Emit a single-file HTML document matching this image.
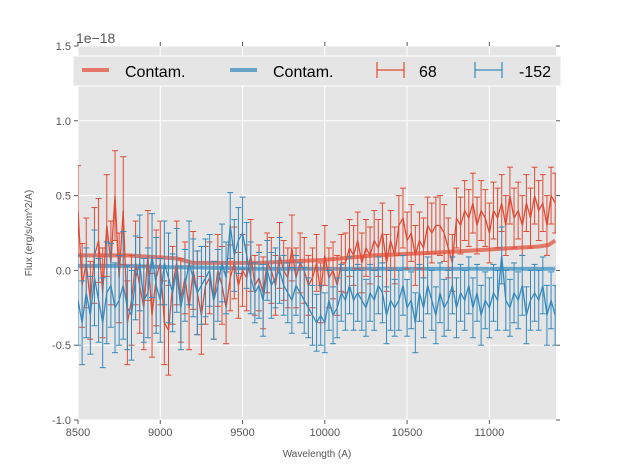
<!DOCTYPE html>
<html><head><meta charset="utf-8"><style>
html,body{margin:0;padding:0;background:#fff;}
svg{display:block;font-family:"Liberation Sans","DejaVu Sans",sans-serif;}
</style></head><body>
<svg id="chart" width="617" height="467" xmlns="http://www.w3.org/2000/svg"></svg>
<script>
const redX0 = 8500, stepX = 25;
const redVals = [0.4,-0.1,0.05,-0.2,0.1,0.2,-0.15,0.3,0.05,0.5,-0.05,
0.4,-0.35,-0.2,0.05,-0.1,-0.25,0.1,-0.3,-0.05,0.05,
-0.35,-0.4,-0.1,0.05,-0.2,-0.05,-0.25,0.0,-0.15,-0.3,
-0.1,-0.05,-0.2,0.0,-0.1,-0.25,-0.05,0.05,-0.1,0.0,
-0.05,0.1,-0.1,-0.05,-0.15,0.05,0.0,-0.1,0.1,0.0,
-0.05,0.15,-0.05,0.05,0.0,-0.1,-0.05,0.05,-0.15,0.1,
-0.05,0.0,-0.1,0.05,0.05,0.15,0.1,0.2,0.05,0.15,
0.1,0.2,0.15,0.25,0.05,0.2,0.1,0.3,0.35,0.2,
0.25,0.1,0.2,0.15,0.3,0.25,0.3,0.3,0.25,0.15,
0.05,0.35,0.3,0.4,0.35,0.45,0.3,0.4,0.35,0.25,
0.4,0.35,0.45,0.3,0.5,0.35,0.4,0.3,0.45,0.35,
0.5,0.4,0.45,0.3,0.5,0.45];
const blueVals = [-0.2,-0.35,-0.15,-0.3,-0.05,-0.2,-0.35,-0.15,-0.1,-0.25,-0.2,
-0.1,-0.25,-0.3,-0.05,0.05,-0.2,-0.15,0.1,-0.1,-0.2,
0.05,-0.05,-0.15,0.0,-0.25,-0.1,0.05,-0.05,-0.15,-0.1,
-0.05,0.0,-0.2,-0.1,0.05,-0.05,0.3,0.1,0.2,0.25,
0.1,-0.05,-0.15,-0.1,-0.2,0.0,-0.1,-0.05,0.0,-0.1,
-0.15,-0.2,-0.1,-0.15,-0.2,-0.25,-0.3,-0.35,-0.3,-0.35,
-0.2,-0.3,-0.25,-0.15,-0.2,-0.1,-0.2,-0.15,-0.2,-0.25,
-0.15,-0.2,-0.1,-0.15,-0.3,-0.2,-0.25,-0.2,-0.1,-0.25,
-0.2,-0.35,-0.15,-0.25,-0.1,-0.2,-0.3,-0.15,-0.25,-0.2,
-0.1,-0.25,-0.15,-0.2,-0.1,-0.25,-0.15,-0.3,-0.2,-0.25,
-0.15,-0.2,0.1,-0.2,-0.25,-0.15,-0.2,-0.1,-0.3,-0.2,
-0.15,-0.2,-0.1,-0.3,-0.2,-0.3];
const errVals = [0.3,0.28,0.3,0.26,0.32,0.28,0.3,0.34,0.28,0.3,0.3,
0.36,0.28,0.3,0.28,0.32,0.28,0.3,0.28,0.32,0.28,
0.28,0.3,0.26,0.28,0.28,0.24,0.28,0.26,0.28,0.26,
0.26,0.24,0.26,0.24,0.26,0.24,0.22,0.24,0.22,0.24,
0.22,0.24,0.2,0.22,0.24,0.2,0.22,0.2,0.22,0.2,
0.2,0.22,0.2,0.2,0.22,0.2,0.2,0.19,0.2,0.2,
0.2,0.19,0.2,0.19,0.2,0.19,0.2,0.19,0.2,0.19,
0.19,0.2,0.19,0.2,0.19,0.2,0.19,0.2,0.2,0.19,
0.19,0.2,0.19,0.2,0.19,0.2,0.19,0.2,0.19,0.2,
0.19,0.2,0.19,0.2,0.19,0.2,0.19,0.2,0.19,0.2,
0.19,0.2,0.19,0.2,0.19,0.2,0.19,0.2,0.19,0.2,
0.19,0.2,0.19,0.2,0.19,0.2];
const contamX = [8500,8800,9100,9200,9600,9800,10000,10300,10700,11000,11300,11360,11400];
const contamRed = [0.1,0.1,0.08,0.05,0.05,0.06,0.07,0.1,0.12,0.14,0.16,0.17,0.2];
const contamBlue = [0.03,0.03,0.02,0.02,0.01,0.01,0.01,0.01,0.01,0.01,0.01,0.01,0.01];
const xTicks = [8500,9000,9500,10000,10500,11000];
const yTicks = [-1.0,-0.5,0.0,0.5,1.0,1.5];

const NS="http://www.w3.org/2000/svg";
const svg=document.getElementById('chart');
const L=78,R=556,T=46,B=420,xmin=8500,xmax=11405,ymin=-1,ymax=1.5;
const sx=v=>L+(v-xmin)/(xmax-xmin)*(R-L);
const sy=v=>B-(v-ymin)/(ymax-ymin)*(B-T);
function mk(tag,attrs,parent){const e=document.createElementNS(NS,tag);for(const k in attrs)e.setAttribute(k,attrs[k]);(parent||svg).appendChild(e);return e;}

const bg=mk('rect',{x:L,y:T,width:R-L,height:B-T,fill:'#e5e5e5'});


const grid=mk('g',{stroke:'#fff','stroke-width':1});


xTicks.forEach(t=>{mk('line',{x1:sx(t),x2:sx(t),y1:T,y2:B},grid);});
yTicks.forEach(t=>{mk('line',{x1:L,x2:R,y1:sy(t),y2:sy(t)},grid);});

const clip=mk('clipPath',{id:'pc'});mk('rect',{x:L,y:T,width:R-L,height:B-T},clip);
const plot=mk('g',{'clip-path':'url(#pc)'});

function series(vals,color,name){
  const g=mk('g',{stroke:color,'stroke-width':1,fill:'none'},plot);
  
  
  let d='';
  vals.forEach((v,i)=>{
    const x=sx(redX0+i*stepX),y1=sy(v-errVals[i]),y2=sy(v+errVals[i]);
    mk('line',{x1:x,x2:x,y1:y1,y2:y2},g);
    mk('line',{x1:x-3,x2:x+3,y1:y1,y2:y1},g);
    mk('line',{x1:x-3,x2:x+3,y1:y2,y2:y2},g);
    d+=(i?'L':'M')+x.toFixed(1)+','+sy(v).toFixed(1);
  });
  mk('path',{d:d,'stroke-width':1.3},g);
}
function contam(vals,color,name){
  let d='';vals.forEach((v,i)=>{d+=(i?'L':'M')+sx(contamX[i]).toFixed(1)+','+sy(v).toFixed(1);});
  const p=mk('path',{d:d,stroke:color,'stroke-width':4,fill:'none','stroke-opacity':0.7,'stroke-linejoin':'round'},plot);
  
  
}
contam(contamRed,'#E24A33','contam-line-68');
contam(contamBlue,'#348ABD','contam-line-152');
series(redVals,'#E24A33','series-68');
series(blueVals,'#348ABD','series-152');

const ax=mk('g',{stroke:'#555','stroke-width':1});


xTicks.forEach(t=>{mk('line',{x1:sx(t),x2:sx(t),y1:B,y2:B+4},ax);mk('line',{x1:sx(t),x2:sx(t),y1:T,y2:T-4},ax);});
yTicks.forEach(t=>{mk('line',{x1:L-4,x2:L,y1:sy(t),y2:sy(t)},ax);mk('line',{x1:R,x2:R+4,y1:sy(t),y2:sy(t)},ax);});
xTicks.forEach(t=>{const e=mk('text',{x:sx(t),y:B+16,'text-anchor':'middle','font-size':11,fill:'#555'});e.textContent=t;

});
yTicks.forEach(t=>{const e=mk('text',{x:L-7,y:sy(t)+4,'text-anchor':'end','font-size':11,fill:'#555'});e.textContent=t.toFixed(1);

});

const off=mk('text',{x:76,y:43,'font-size':14,fill:'#555'});off.textContent='1e\u221218';


const xl=mk('text',{x:317,y:457,'text-anchor':'middle','font-size':10,fill:'#555'});xl.textContent='Wavelength (A)';


const yl=mk('text',{x:0,y:0,'text-anchor':'middle','font-size':10,fill:'#555',transform:'translate(32,233) rotate(-90)'});yl.textContent='Flux (erg/s/cm^2/A)';



const lg=mk('g',{});


mk('rect',{x:73,y:56,width:488,height:30,fill:'#e5e5e5',stroke:'#fff','stroke-width':1},lg);
function lgText(x,t){const e=mk('text',{x:x,y:77,'font-size':16,fill:'#000'},lg);e.textContent=t;

}
mk('line',{x1:82,x2:109,y1:70,y2:70,stroke:'#E24A33','stroke-width':4,'stroke-opacity':0.7},lg);
lgText(125,'Contam.');
mk('line',{x1:230,x2:257,y1:70,y2:70,stroke:'#348ABD','stroke-width':4,'stroke-opacity':0.7},lg);
lgText(273,'Contam.');
function lgErr(x,c){const g=mk('g',{stroke:c,'stroke-width':1.2},lg);
mk('line',{x1:x,x2:x+27,y1:70,y2:70},g);mk('line',{x1:x,x2:x,y1:62,y2:78},g);mk('line',{x1:x+27,x2:x+27,y1:62,y2:78},g);}
lgErr(377,'#E24A33');lgText(419,'68');
lgErr(475,'#348ABD');lgText(519,'-152');
</script>
</body></html>
